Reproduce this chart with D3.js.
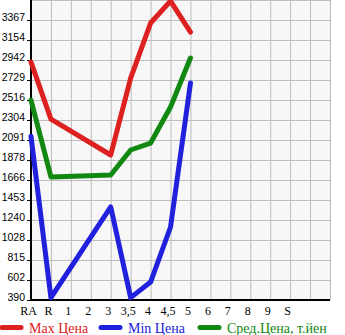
<!DOCTYPE html>
<html><head><meta charset="utf-8">
<script src="https://cdn.jsdelivr.net/npm/d3@7"></script>
<style>body{margin:0;background:#fff}svg{display:block}</style>
</head><body>
<script>
const categories = ["RA","R","1","2","3","3,5","4","4,5","5","6","7","8","9","S","",""];
const maxPrice = [2920, 2314, null, null, 1932, 2750, 3335, 3569, 3239];
const minPrice = [2130, 415, null, null, 1379, 415, 581, 1166, 2697];
const avgPrice = [2516, 1698, null, null, 1719, 1985, 2059, 2442, 2963];
const yTickLabels = [390, 602, 815, 1028, 1240, 1453, 1666, 1878, 2091, 2304, 2516, 2729, 2942, 3154, 3367];
const legendLabels = ["Max Цена", "Min Цена", "Сред.Цена, т.йен"];
const colors = ["#dd2020", "#2020dd", "#118811"];

const W = 345, H = 335;
const svg = d3.select("body").append("svg").attr("width", W).attr("height", H);
const x = d3.scaleLinear().domain([0, categories.length - 1]).range([31, 330]);
const y = d3.scaleLinear().domain([390, 3580]).range([300, 0]);

// plot background
svg.append("rect").attr("x", x(0)).attr("y", y(3580)).attr("width", x(15) - x(0)).attr("height", y(390) - y(3580)).attr("fill", "#f7f7f7");

// vertical grid
svg.append("g").selectAll("line").data(d3.range(1, categories.length)).join("line")
  .attr("x1", d => x(d) + 0.5).attr("x2", d => x(d) + 0.5)
  .attr("y1", y(3580)).attr("y2", y(390))
  .attr("stroke", "#bdbdbd").attr("stroke-width", 1);
// horizontal grid
const step = (3367 - 390) / 14;
const gridVals = d3.range(0, 16).map(i => 390 + i * step);
svg.append("g").selectAll("line").data(gridVals).join("line")
  .attr("x1", x(0)).attr("x2", x(15))
  .attr("y1", d => Math.round(y(d)) + 0.5).attr("y2", d => Math.round(y(d)) + 0.5)
  .attr("stroke", "#bdbdbd").attr("stroke-width", 1);

// y axis
const yAxis = d3.axisLeft(y).tickValues(yTickLabels).tickSize(4).tickPadding(2).tickFormat(d3.format("d"));
const gy = svg.append("g").attr("transform", "translate(31,0)").call(yAxis);
gy.select(".domain").remove();
gy.selectAll(".tick line").attr("stroke", "#000");
gy.selectAll(".tick text").attr("font-family", "Liberation Sans, sans-serif").attr("font-size", 10.5)
  .attr("dy", "0").attr("fill", "#000");

// x labels
const xAxis = d3.axisBottom(x).tickValues(d3.range(0, categories.length)).tickSize(0).tickFormat(i => categories[i]);
const gx = svg.append("g").attr("transform", "translate(0,300)").call(xAxis);
gx.select(".domain").remove();
gx.selectAll(".tick text").attr("font-family", "Liberation Serif, serif").attr("font-size", 12)
  .attr("fill", "#000").attr("x", -3).attr("y", 15).attr("dy", "0");

// axis lines
svg.append("line").attr("x1", 31).attr("x2", 31).attr("y1", 0).attr("y2", 301).attr("stroke", "#000").attr("stroke-width", 2);
svg.append("line").attr("x1", 30).attr("x2", 330).attr("y1", 300).attr("y2", 300).attr("stroke", "#000").attr("stroke-width", 2);

// series
const line = d3.line().x(d => x(d.i)).y(d => y(d.v));
[maxPrice, minPrice, avgPrice].forEach((s, k) => {
  const pts = s.map((v, i) => ({i, v})).filter(d => d.v !== null);
  svg.append("path").datum(pts).attr("d", line).attr("fill", "none")
    .attr("stroke", colors[k]).attr("stroke-width", 5).attr("stroke-linejoin", "round").attr("stroke-linecap", "round");
});

// legend
const legX = [2, 101, 200];
legendLabels.forEach((t, k) => {
  svg.append("line").attr("x1", legX[k]).attr("x2", legX[k] + 19).attr("y1", 327.5).attr("y2", 327.5)
    .attr("stroke", colors[k]).attr("stroke-width", 5).attr("stroke-linecap", "round");
  svg.append("text").attr("x", legX[k] + 27).attr("y", 333).attr("font-family", "Liberation Serif, serif")
    .attr("font-size", 14).attr("fill", colors[k]).text(t);
});
</script>
</body></html>
